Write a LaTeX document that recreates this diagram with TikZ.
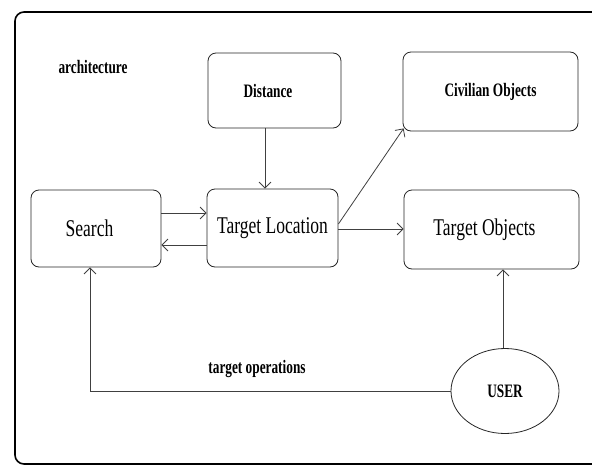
\documentclass[tikz,border=0pt]{standalone}
\usepackage{fontspec}
\setmainfont{Liberation Serif}
\newfontfamily\condfont[FakeStretch=0.73]{Liberation Serif}
\newfontfamily\condbold[FakeStretch=0.7]{Liberation Serif Bold}
\usetikzlibrary{arrows.meta,shapes.geometric}
\tikzset{
  box/.style={draw=black!85, line width=0.8pt, rounded corners=8pt, inner sep=0pt},
  bigtxt/.style={font=\condfont\fontsize{24}{26}\selectfont},
  smalltxt/.style={font=\condbold\fontsize{19}{21}\selectfont},
  conn/.style={draw=black!75, line width=0.8pt, -{Straight Barb[length=6pt,width=12pt]}},
  frame/.style={draw=black, line width=1.6pt, rounded corners=9pt}
}
\begin{document}
\begin{tikzpicture}[x=1pt,y=-1pt]
\useasboundingbox (0,0) rectangle (592,466);
\begin{scope}
\clip (0,0) rectangle (592,466);
\fill[white] (0,0) rectangle (592,466);
\draw[frame] (15,12) -- (15,464) -- (640,464) -- (640,12) -- cycle;
\end{scope}

\node[smalltxt] (arch) at (93,67) {architecture};

\node[box, smalltxt, minimum width=133pt, minimum height=75pt] (dist) at (274.5,90.5) {\hspace*{-13pt}Distance};
\node[box, smalltxt, minimum width=175pt, minimum height=79pt] (civ) at (490.5,91.5) {Civilian Objects};
\node[box, bigtxt, minimum width=130pt, minimum height=77pt] (search) at (96,228.5) {\hspace*{-13pt}Search};
\node[box, bigtxt, minimum width=131pt, minimum height=78pt] (tl) at (272.5,228) {Target Location};
\node[box, bigtxt, minimum width=175pt, minimum height=79pt] (to) at (491.5,229.5) {\hspace*{-14pt}Target Objects};
\node[draw=black!85, line width=0.8pt, ellipse, smalltxt, minimum width=108pt, minimum height=85pt, inner sep=0pt] (user) at (505,391) {USER};

\node[smalltxt] (tops) at (257,369) {target operations};

% connectors
\draw[conn] (dist.south -| 265,0) -- (tl.north -| 265,0);
\draw[conn] (search.east |- 0,213) -- (tl.west |- 0,213);
\draw[conn] (tl.west |- 0,245) -- (search.east |- 0,245);
\draw[conn] (tl.east |- 0,229) -- (to.west |- 0,229);
\draw[conn] (tl.east |- 0,224) -- ([shift={(1pt,3pt)}]civ.south west);
\draw[conn] (user.north -| 503,0) -- (to.south -| 503,0);
\draw[conn] (user.west) -| (search.south -| 90,0);
\end{tikzpicture}
\end{document}
